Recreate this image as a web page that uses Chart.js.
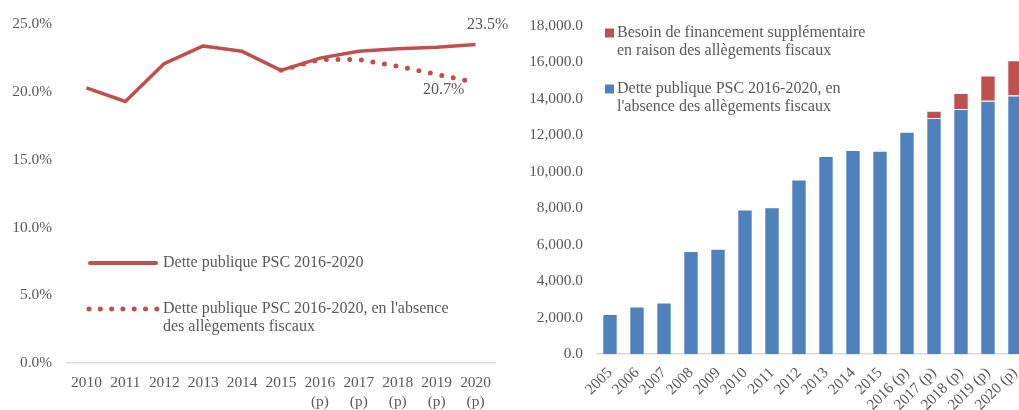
<!DOCTYPE html>
<html>
<head>
<meta charset="utf-8">
<script src="https://cdn.jsdelivr.net/npm/chart.js@4.4.1/dist/chart.umd.min.js"></script>
<style>
  html, body { margin: 0; padding: 0; background: #ffffff; overflow: hidden; width: 1019px; height: 410px; }
  #wrap { position: relative; width: 1019px; height: 410px; overflow: hidden; }
  #ratioChart { position: absolute; left: 0; top: 0; }
  #debtChart { position: absolute; left: 510px; top: 0; }
</style>
</head>
<body>
<div id="wrap">
  <canvas id="ratioChart" width="510" height="410"></canvas>
  <canvas id="debtChart" width="540" height="410"></canvas>
</div>
<script>
// ---- Debt ratio (% of GDP), 2010-2020 ----
const ratioYears = [['2010'], ['2011'], ['2012'], ['2013'], ['2014'], ['2015'],
  ['2016', '(p)'], ['2017', '(p)'], ['2018', '(p)'], ['2019', '(p)'], ['2020', '(p)']];
const ratioDebt = [20.3, 19.3, 22.1, 23.4, 23.0, 21.6, 22.5, 23.0, 23.2, 23.3, 23.5];
const ratioDebtNoRelief = [null, null, null, null, null, 21.6, 22.4, 22.4, 21.9, 21.3, 20.7];
const ratioTicks = [0, 5, 10, 15, 20, 25];
const ratioLabels = ['Dette publique PSC 2016-2020',
  "Dette publique PSC 2016-2020, en l'absence des allègements fiscaux"];

// ---- Public debt amounts, 2005-2020 ----
const debtYears = ['2005', '2006', '2007', '2008', '2009', '2010', '2011', '2012', '2013',
  '2014', '2015', '2016 (p)', '2017 (p)', '2018 (p)', '2019 (p)', '2020 (p)'];
const debtNoRelief = [2190, 2610, 2830, 5650, 5780, 7930, 8060, 9570, 10870,
  11200, 11160, 12200, 12950, 13440, 13900, 14190];
const extraFinancing = [0, 0, 0, 0, 0, 0, 0, 0, 0, 0, 0, 0, 400, 880, 1380, 1930];
const debtTicks = [0, 2000, 4000, 6000, 8000, 10000, 12000, 14000, 16000, 18000];
const debtLabels = ["Dette publique PSC 2016-2020, en l'absence des allègements fiscaux",
  'Besoin de financement supplémentaire en raison des allègements fiscaux'];

const RED = '#C0504D';
const BLUE = '#4F81BD';
const TEXT = '#595959';
const AXIS = '#D9D9D9';
const FONT = "'Liberation Serif', 'Times New Roman', serif";
const FS_AXIS = 15.4;
const FS_TEXT = 16;

Chart.defaults.font.family = FONT;
Chart.defaults.font.size = FS_AXIS;
Chart.defaults.color = TEXT;

// Legend for the ratio chart, drawn inside the plot area
const ratioLegend = {
  id: 'ratioLegend',
  afterDraw(chart) {
    const ctx = chart.ctx;
    ctx.save();
    ctx.font = FS_TEXT + 'px ' + FONT;
    ctx.fillStyle = TEXT;
    ctx.textBaseline = 'middle';
    ctx.textAlign = 'left';
    // solid series
    ctx.strokeStyle = RED;
    ctx.lineWidth = 4;
    ctx.lineCap = 'round';
    ctx.beginPath();
    ctx.moveTo(90, 263); ctx.lineTo(156, 263);
    ctx.stroke();
    ctx.fillText(chart.data.datasets[0].label, 163, 263);
    // dotted series
    ctx.fillStyle = RED;
    for (let i = 0; i < 7; i++) {
      ctx.beginPath();
      ctx.arc(89 + i * 11.3, 309, 2.5, 0, Math.PI * 2);
      ctx.fill();
    }
    ctx.fillStyle = TEXT;
    ctx.fillText("Dette publique PSC 2016-2020, en l'absence", 163, 309);
    ctx.fillText('des allègements fiscaux', 163, 327);
    ctx.restore();
  }
};

// Value labels at the end of each ratio series
const ratioEndLabels = {
  id: 'ratioEndLabels',
  afterDatasetsDraw(chart) {
    const ctx = chart.ctx;
    ctx.save();
    ctx.font = FS_TEXT + 'px ' + FONT;
    ctx.fillStyle = TEXT;
    ctx.textAlign = 'center';
    ctx.textBaseline = 'middle';
    const offs = [[12, -20], [-32, 7]];
    chart.data.datasets.forEach((ds, i) => {
      const meta = chart.getDatasetMeta(i);
      const last = ds.data.length - 1;
      const pt = meta.data[last];
      ctx.fillText(ds.data[last].toFixed(1) + '%', pt.x + offs[i][0], pt.y + offs[i][1]);
    });
    ctx.restore();
  }
};

new Chart(document.getElementById('ratioChart'), {
  type: 'line',
  data: {
    labels: ratioYears,
    datasets: [
      {
        label: ratioLabels[0],
        data: ratioDebt,
        borderColor: RED,
        borderWidth: 3.5,
        pointRadius: 0,
        borderJoinStyle: 'round',
        tension: 0
      },
      {
        label: ratioLabels[1],
        data: ratioDebtNoRelief,
        borderColor: RED,
        borderWidth: 5,
        borderDash: [0, 11.7],
        borderCapStyle: 'round',
        pointRadius: 0,
        tension: 0
      }
    ]
  },
  options: {
    responsive: false,
    animation: false,
    layout: { padding: { top: 23, right: 15, bottom: 0, left: 0 } },
    plugins: { legend: { display: false }, tooltip: { enabled: false } },
    scales: {
      x: {
        offset: true,
        grid: { display: false, drawTicks: false },
        border: { display: true, color: AXIS, width: 1.5 },
        ticks: { padding: 11, maxRotation: 0, autoSkip: false, color: TEXT },
        afterFit(scale) { scale.height = 47; }
      },
      y: {
        min: 0,
        max: 25,
        grid: { display: false, drawTicks: false },
        border: { display: false },
        afterBuildTicks(scale) { scale.ticks = ratioTicks.map(v => ({ value: v })); },
        ticks: { padding: 15, color: TEXT, callback: v => v.toFixed(1) + '%' },
        afterFit(scale) { scale.width = 67; }
      }
    }
  },
  plugins: [ratioLegend, ratioEndLabels]
});

// Legend for the stacked bar chart
const debtLegend = {
  id: 'debtLegend',
  afterDraw(chart) {
    const ctx = chart.ctx;
    ctx.save();
    ctx.font = FS_TEXT + 'px ' + FONT;
    ctx.textBaseline = 'middle';
    ctx.textAlign = 'left';
    const rows = [
      { ds: 1, y: 33, lines: ['Besoin de financement supplémentaire', 'en raison des allègements fiscaux'] },
      { ds: 0, y: 89, lines: ['Dette publique PSC 2016-2020, en', "l'absence des allègements fiscaux"] }
    ];
    rows.forEach(r => {
      ctx.fillStyle = chart.data.datasets[r.ds].backgroundColor;
      ctx.fillRect(95, r.y - 4.5, 9, 9);
      ctx.fillStyle = TEXT;
      r.lines.forEach((t, k) => ctx.fillText(t, 107, r.y + k * 18));
    });
    ctx.restore();
  }
};

new Chart(document.getElementById('debtChart'), {
  type: 'bar',
  data: {
    labels: debtYears,
    datasets: [
      {
        label: debtLabels[0],
        data: debtNoRelief,
        backgroundColor: BLUE,
        borderColor: 'rgba(255,255,255,0.55)',
        borderWidth: 1,
        categoryPercentage: 1,
        barPercentage: 0.57
      },
      {
        label: debtLabels[1],
        data: extraFinancing,
        backgroundColor: RED,
        borderColor: 'rgba(255,255,255,0.55)',
        borderWidth: 1,
        categoryPercentage: 1,
        barPercentage: 0.57
      }
    ]
  },
  options: {
    responsive: false,
    animation: false,
    layout: { padding: { top: 26, right: 21.5, bottom: 0, left: 0 } },
    plugins: { legend: { display: false }, tooltip: { enabled: false } },
    scales: {
      x: {
        stacked: true,
        grid: { display: false, drawTicks: false },
        border: { display: true, color: AXIS, width: 1.5 },
        ticks: { padding: 10, minRotation: 45, maxRotation: 45, autoSkip: false, color: TEXT },
        afterFit(scale) { scale.height = 56; }
      },
      y: {
        stacked: true,
        min: 0,
        max: 18000,
        grid: { display: false, drawTicks: false },
        border: { display: false },
        afterBuildTicks(scale) { scale.ticks = debtTicks.map(v => ({ value: v })); },
        ticks: {
          padding: 13.5,
          color: TEXT,
          callback: v => v.toLocaleString('en-US', { minimumFractionDigits: 1, maximumFractionDigits: 1 })
        },
        afterFit(scale) { scale.width = 86.5; }
      }
    }
  },
  plugins: [debtLegend]
});
</script>
</body>
</html>
